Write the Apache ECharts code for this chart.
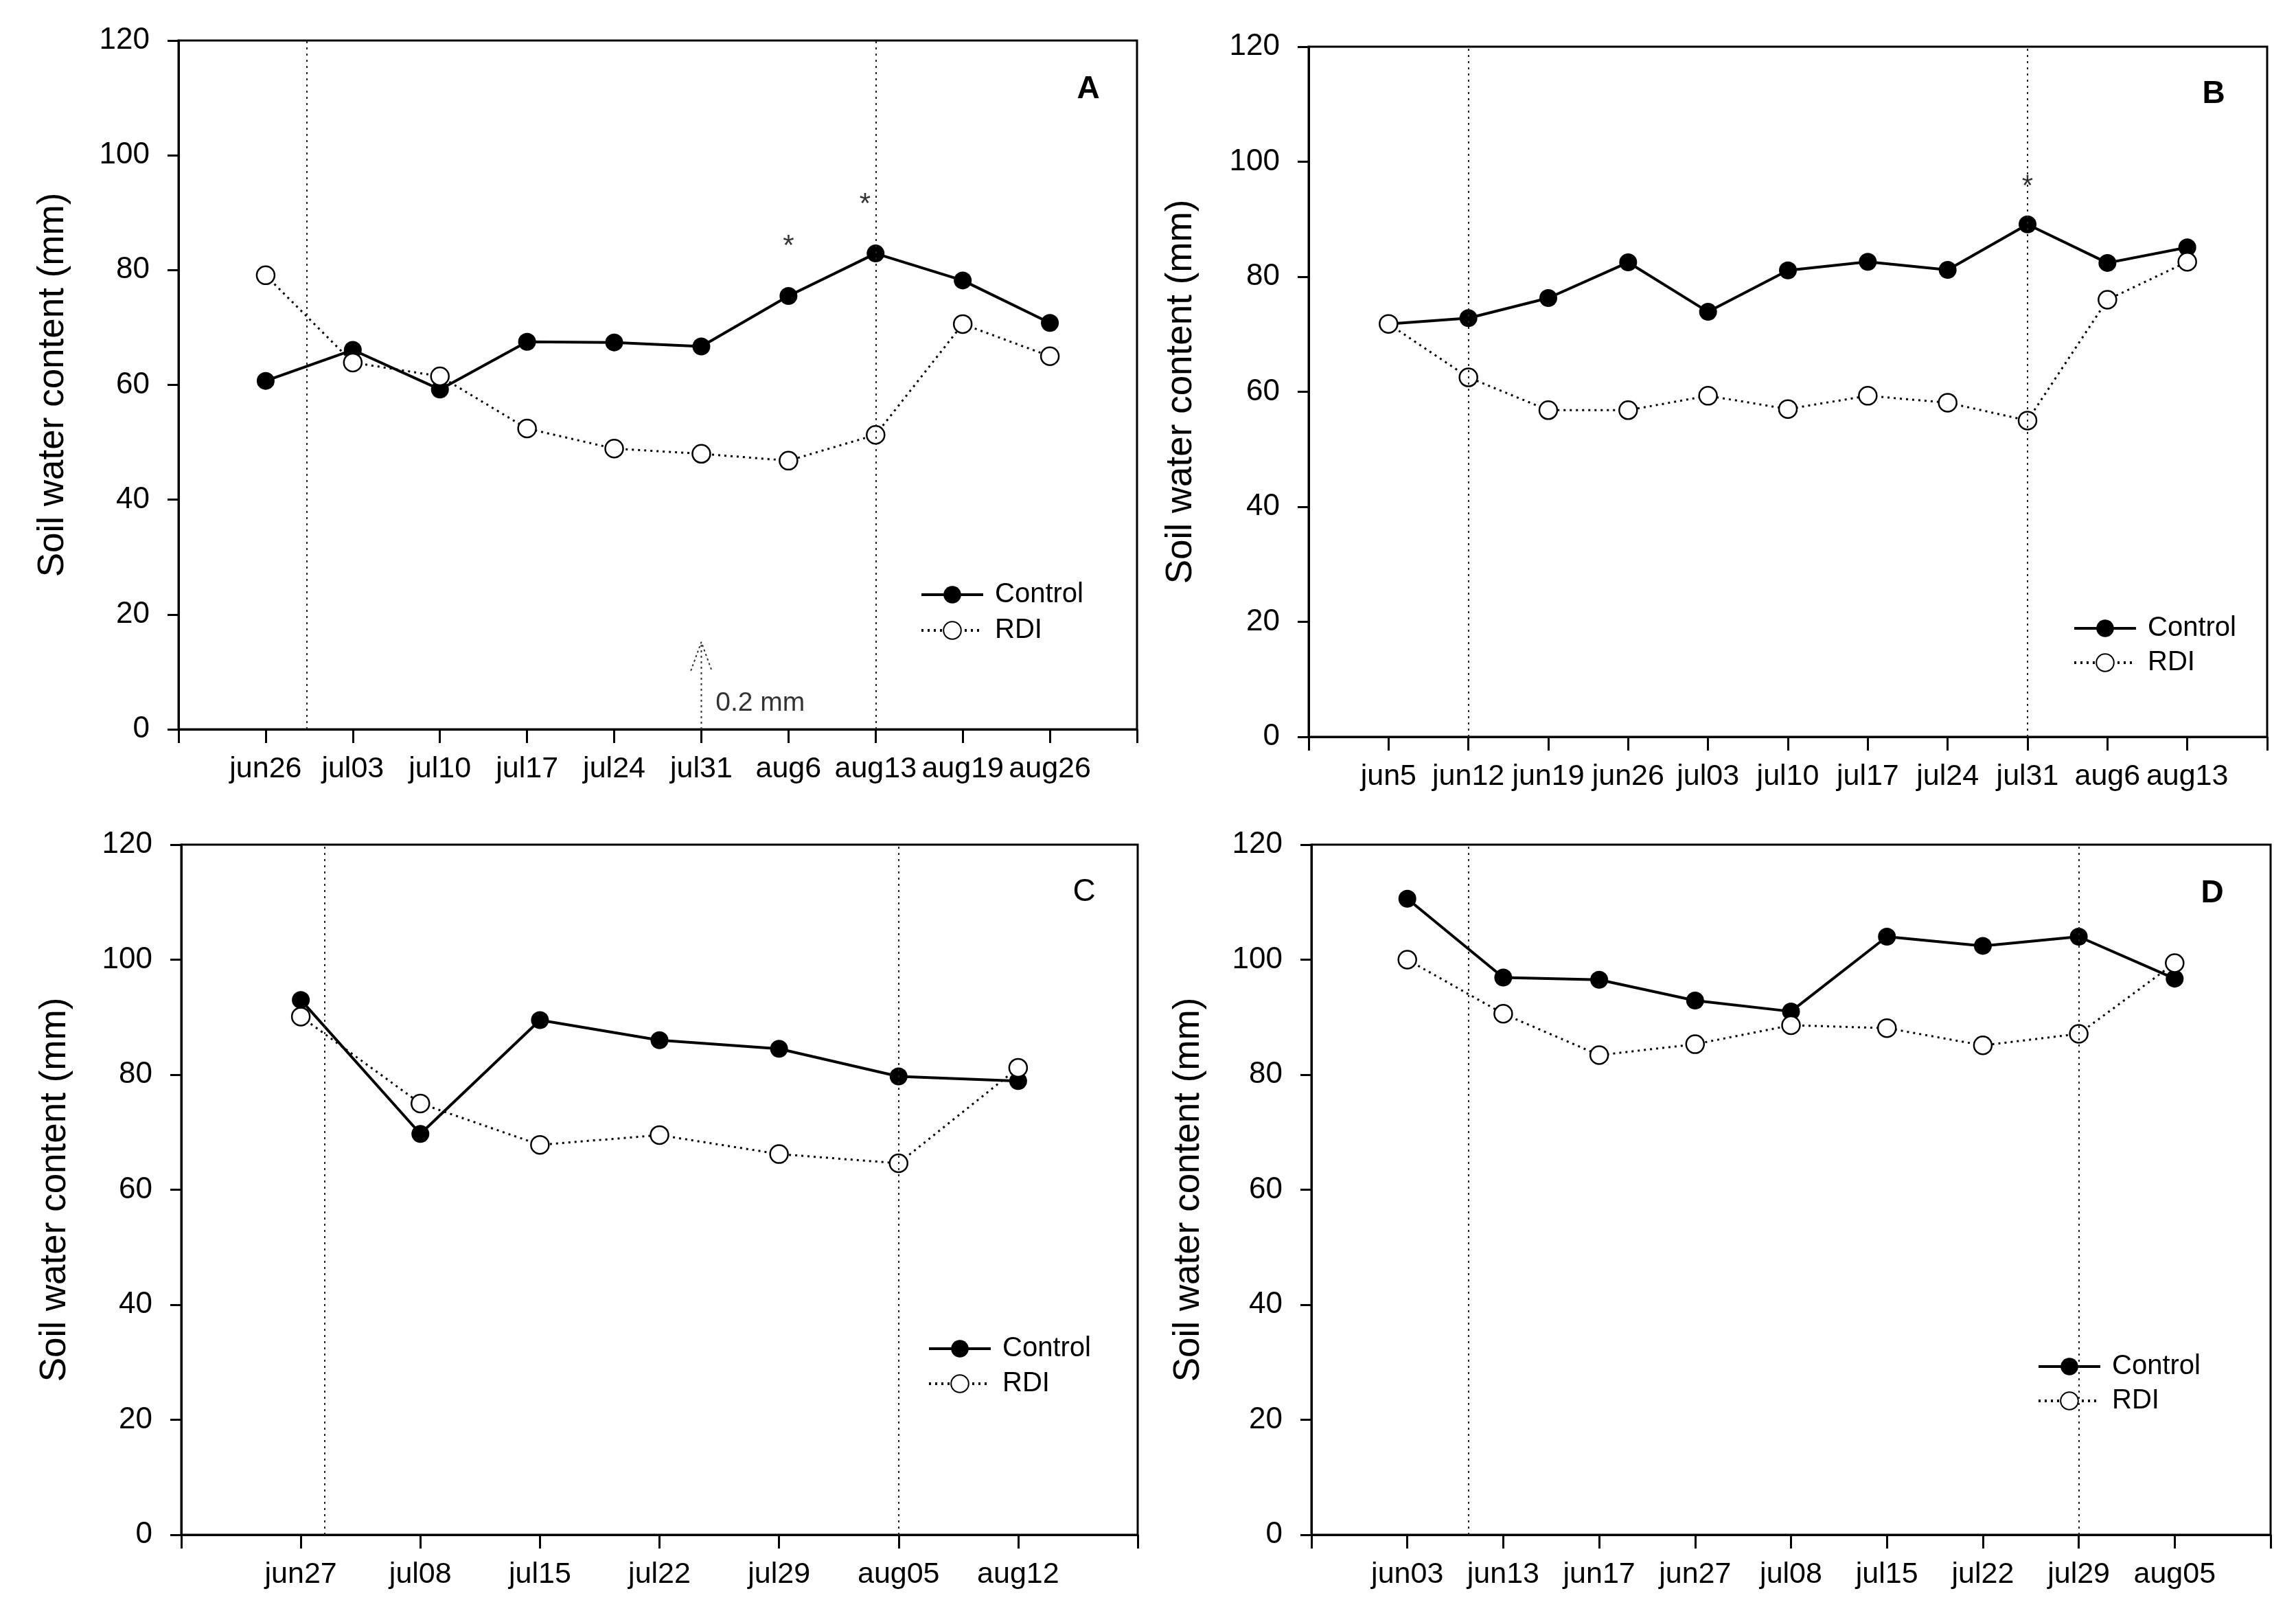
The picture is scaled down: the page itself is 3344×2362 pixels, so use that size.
<!DOCTYPE html>
<html>
<head>
<meta charset="utf-8">
<script src="https://cdn.jsdelivr.net/npm/echarts@6/dist/echarts.min.js"></script>
<style>
html,body{margin:0;padding:0;background:#fff;}
#c{width:3344px;height:2362px;}
</style>
</head>
<body>
<div id="c"></div>
<script>
// ---------- data ----------
const yTicks = [0, 20, 40, 60, 80, 100, 120];

const catsA = ['jun26','jul03','jul10','jul17','jul24','jul31','aug6','aug13','aug19','aug26'];
const controlA = [60.7, 66.1, 59.2, 67.5, 67.4, 66.7, 75.5, 82.9, 78.2, 70.8];
const rdiA = [79.1, 63.9, 61.5, 52.4, 48.9, 48.0, 46.8, 51.3, 70.6, 65.0];
const vlinesA = [0.47, 7];
const starsA = [[6, 85.2], [6.88, 92.6]];
const arrowA = {x: 5, top: 15.2, label: '0.2 mm', labelX: 5.16, labelY: 4.5};

const catsB = ['jun5','jun12','jun19','jun26','jul03','jul10','jul17','jul24','jul31','aug6','aug13'];
const controlB = [71.8, 72.8, 76.3, 82.5, 73.9, 81.1, 82.6, 81.2, 89.1, 82.4, 85.1];
const rdiB = [71.8, 62.5, 56.8, 56.8, 59.3, 57.0, 59.3, 58.1, 55.0, 76.0, 82.6];
const vlinesB = [1, 8];
const starsB = [[8, 96.8]];

const catsC = ['jun27','jul08','jul15','jul22','jul29','aug05','aug12'];
const controlC = [93.0, 69.7, 89.5, 86.0, 84.5, 79.7, 78.9];
const rdiC = [90.1, 75.0, 67.8, 69.5, 66.2, 64.6, 81.2];
const vlinesC = [0.2, 5];

const catsD = ['jun03','jun13','jun17','jun27','jul08','jul15','jul22','jul29','aug05'];
const controlD = [110.6, 96.9, 96.5, 92.9, 91.0, 104.0, 102.4, 104.0, 96.7];
const rdiD = [100.0, 90.6, 83.4, 85.3, 88.6, 88.1, 85.1, 87.1, 99.4];
const vlinesD = [0.64, 7];

const panelLetters = ['A', 'B', 'C', 'D'];
const yTitle = 'Soil water content (mm)';
const legendNames = ['Control', 'RDI'];

// ---------- layout / style ----------
const FONT = '"Liberation Sans", Arial, sans-serif';
const panels = [
  {cats: catsA, ctrl: controlA, rdi: rdiA, vl: vlinesA, stars: starsA,
   grid: {left: 260, top: 59, width: 1396, height: 1003},
   legend: {left: 1335, top: 841, gap: 12}, letter: {x: 1585, y: 130, weight: 'bold'}, nameGap: 156},
  {cats: catsB, ctrl: controlB, rdi: rdiB, vl: vlinesB, stars: starsB,
   grid: {left: 1906, top: 68, width: 1396, height: 1005},
   legend: {left: 3014, top: 890, gap: 10}, letter: {x: 3224, y: 137, weight: 'bold'}, nameGap: 159},
  {cats: catsC, ctrl: controlC, rdi: rdiC, vl: vlinesC, stars: [],
   grid: {left: 264, top: 1230, width: 1393, height: 1005},
   legend: {left: 1346, top: 1939, gap: 11}, letter: {x: 1579, y: 1299, weight: 'normal'}, nameGap: 157},
  {cats: catsD, ctrl: controlD, rdi: rdiD, vl: vlinesD, stars: [],
   grid: {left: 1910, top: 1230, width: 1397, height: 1005},
   legend: {left: 2962, top: 1965, gap: 10}, letter: {x: 3222, y: 1301, weight: 'bold'}, nameGap: 152}
];

const grid = [], xAxis = [], yAxis = [], series = [], legend = [], graphic = [];

panels.forEach((p, i) => {
  grid.push(Object.assign({show: true, borderColor: '#000', borderWidth: 3, backgroundColor: 'transparent'}, p.grid));
  const n = p.cats.length;
  xAxis.push({
    type: 'value', gridIndex: i, min: -1, max: n, interval: 1,
    splitLine: {show: false},
    axisLine: {show: true, onZero: false, lineStyle: {color: '#000', width: 3}},
    axisTick: {show: true, length: 20, lineStyle: {color: '#000', width: 3}},
    axisLabel: {
      show: true, margin: 37, fontSize: 43, fontFamily: FONT, color: '#000',
      showMinLabel: true, showMaxLabel: true,
      formatter: v => (v >= 0 && v < n && Number.isInteger(v)) ? p.cats[v] : ''
    }
  });
  yAxis.push({
    type: 'value', gridIndex: i, min: 0, max: 120, interval: 20,
    splitLine: {show: false},
    axisLine: {show: true, onZero: false, lineStyle: {color: '#000', width: 3}},
    axisTick: {show: true, length: 16, lineStyle: {color: '#000', width: 3}},
    axisLabel: {margin: 42, fontSize: 44, fontFamily: FONT, color: '#000',
      formatter: v => yTicks.includes(v) ? String(v) : ''},
    name: yTitle, nameLocation: 'middle', nameGap: p.nameGap,
    nameTextStyle: {fontSize: 53, fontFamily: FONT, color: '#000'}
  });
  series.push({
    name: 'Control', type: 'line', xAxisIndex: i, yAxisIndex: i,
    data: p.ctrl.map((v, k) => [k, v]),
    symbol: 'circle', symbolSize: 26,
    itemStyle: {color: '#000'},
    lineStyle: {color: '#000', width: 4, type: 'solid'},
    z: 3,
    markLine: {
      silent: true, symbol: ['none', 'none'], label: {show: false},
      lineStyle: {type: [3, 6], color: '#222', width: 2},
      data: p.vl.map(v => ({xAxis: v}))
    }
  });
  series.push({
    name: 'RDI', type: 'line', xAxisIndex: i, yAxisIndex: i,
    data: p.rdi.map((v, k) => [k, v]),
    symbol: 'circle', symbolSize: 26,
    itemStyle: {color: '#fff', borderColor: '#000', borderWidth: 2.5},
    lineStyle: {color: '#000', width: 3, type: [3, 6]},
    z: 4
  });
  if (p.stars.length) {
    series.push({
      name: 'sig' + i, type: 'scatter', xAxisIndex: i, yAxisIndex: i,
      data: p.stars, symbolSize: 1, itemStyle: {color: 'transparent'}, silent: true,
      label: {show: true, position: 'inside', formatter: '*', fontSize: 42, fontFamily: FONT, color: '#000', offset: [0, 10]}
    });
  }
  legend.push({
    left: p.legend.left, top: p.legend.top, orient: 'vertical',
    data: legendNames, itemWidth: 90, itemHeight: 32, itemGap: p.legend.gap,
    lineStyle: {width: 4},
    textStyle: {fontSize: 40, fontFamily: FONT, color: '#000', padding: [0, 0, 0, 12], lineHeight: 40},
    selectedMode: false
  });
  graphic.push({
    type: 'text', x: p.letter.x, y: p.letter.y,
    style: {text: panelLetters[i], fontSize: 46, fontWeight: p.letter.weight, fontFamily: FONT,
      fill: '#000', align: 'center', verticalAlign: 'middle'}
  });
});

// arrow annotation in panel A
series.push({
  name: 'arrowShaft', type: 'line', xAxisIndex: 0, yAxisIndex: 0,
  data: [[arrowA.x, 0], [arrowA.x, arrowA.top]], symbol: 'none', silent: true,
  lineStyle: {color: '#333', width: 2, type: [3, 5]}
});
series.push({
  name: 'arrowHead', type: 'line', xAxisIndex: 0, yAxisIndex: 0,
  data: [[arrowA.x - 0.12, arrowA.top - 5], [arrowA.x, arrowA.top], [arrowA.x + 0.12, arrowA.top - 5]],
  symbol: 'none', silent: true,
  lineStyle: {color: '#333', width: 2, type: [3, 4]}
});
series.push({
  name: 'arrowLabel', type: 'scatter', xAxisIndex: 0, yAxisIndex: 0,
  data: [[arrowA.labelX, arrowA.labelY]], symbolSize: 1, itemStyle: {color: 'transparent'}, silent: true,
  label: {show: true, position: 'right', distance: 0, formatter: arrowA.label, fontSize: 39, fontFamily: FONT, color: '#000'}
});

const chart = echarts.init(document.getElementById('c'), null, {renderer: 'canvas'});
chart.setOption({
  backgroundColor: '#fff',
  animation: false,
  grid, xAxis, yAxis, series, legend, graphic
});
</script>
</body>
</html>
